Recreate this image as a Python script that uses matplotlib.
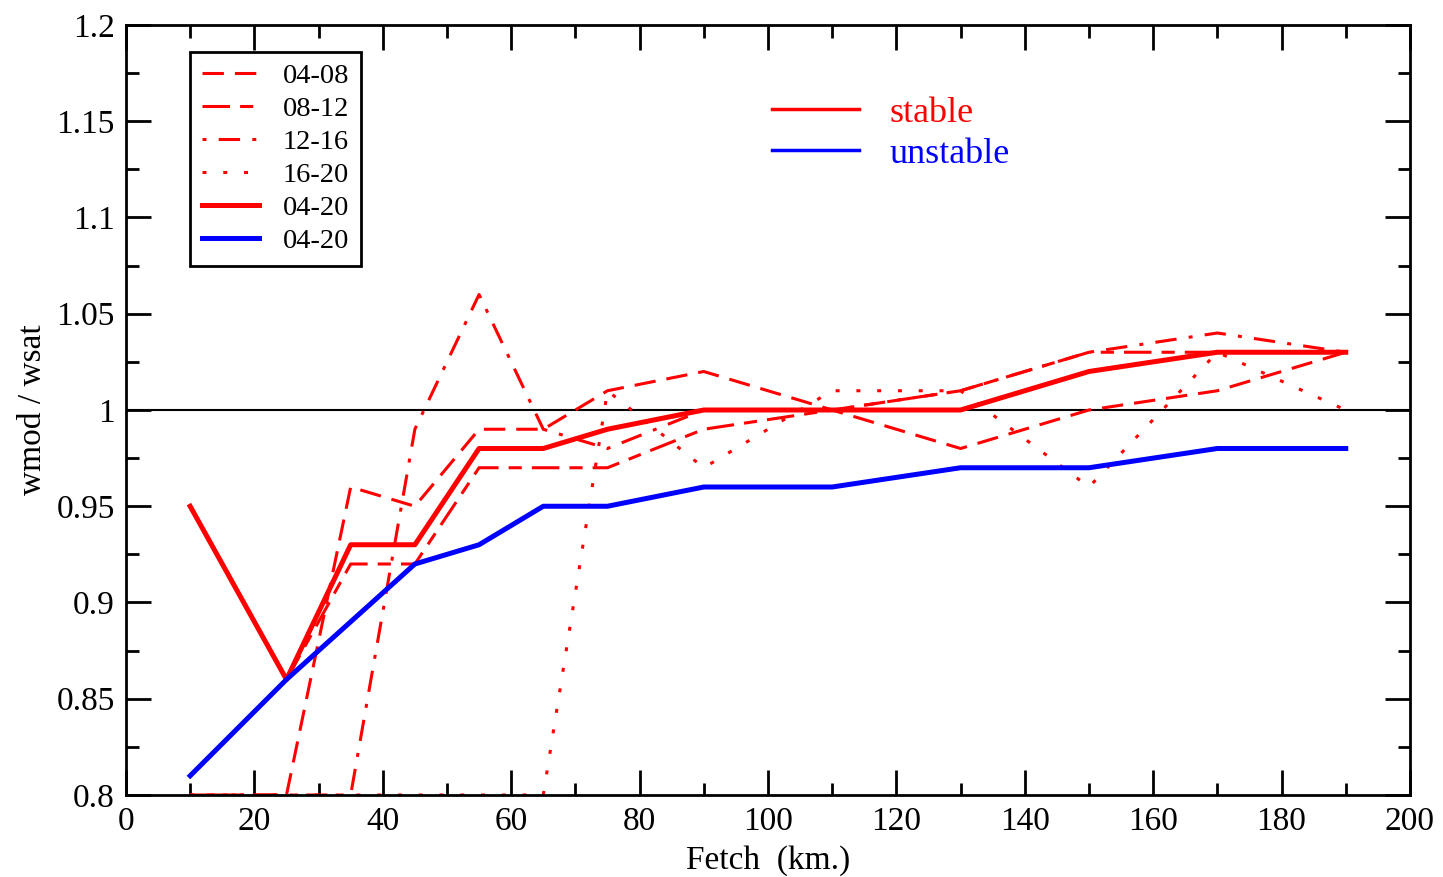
import matplotlib
matplotlib.use("Agg")
import matplotlib.pyplot as plt
from matplotlib.lines import Line2D
from matplotlib.ticker import MultipleLocator

plt.rcParams['font.family'] = ['Liberation Serif', 'DejaVu Serif']

# fetch (km) and wmod / wsat by period
fetch = [10, 25, 35, 45, 55, 65, 75, 90, 110, 130, 150, 170, 190]
r_0408 = [0.80, 0.80, 0.96, 0.95, 0.99, 0.99, 1.01, 1.02, 1.00, 0.98, 1.00, 1.01, 1.03]
fetch_0812 = [25, 35, 45, 55, 65, 75, 90, 110, 130, 150, 170, 190]
r_0812 = [0.86, 0.92, 0.92, 0.97, 0.97, 0.97, 0.99, 1.00, 1.01, 1.03, 1.03, 1.03]
r_1216 = [0.80, 0.80, 0.80, 0.99, 1.06, 0.99, 0.98, 1.00, 1.00, 1.01, 1.03, 1.04, 1.03]
r_1620 = [0.80, 0.80, 0.80, 0.80, 0.80, 0.80, 1.01, 0.97, 1.01, 1.01, 0.96, 1.03, 1.00]
stable_0420 = [0.95, 0.86, 0.93, 0.93, 0.98, 0.98, 0.99, 1.00, 1.00, 1.00, 1.02, 1.03, 1.03]
unstable_0420 = [0.81, 0.86, 0.89, 0.92, 0.93, 0.95, 0.95, 0.96, 0.96, 0.97, 0.97, 0.98, 0.98]

fig = plt.figure(figsize=(14.43, 8.77), dpi=100)
ax = fig.add_axes([0.0873, 0.0935, 0.8898, 0.878])

red = '#ff0000'
blue = '#0000ff'
thin = 2.2
thick = 3.6

l1, = ax.plot(fetch, r_0408, color=red, lw=thin, dashes=(7, 3.6), label='04-08')
l2, = ax.plot(fetch_0812, r_0812, color=red, lw=thin, dashes=(9, 3.3, 4.3, 3.3), label='08-12')
l3, = ax.plot(fetch, r_1216, color=red, lw=thin, dashes=(1.3, 4, 7, 4), label='12-16')
l4, = ax.plot(fetch, r_1620, color=red, lw=thin, dashes=(1.3, 5.5), label='16-20')
l5, = ax.plot(fetch, stable_0420, color=red, lw=thick, label='04-20')
l6, = ax.plot(fetch, unstable_0420, color=blue, lw=thick, label='04-20')

ax.axhline(1.0, color='black', lw=1.5, zorder=1)

ax.set_xlim(0, 200)
ax.set_ylim(0.8, 1.2)
ax.xaxis.set_major_locator(MultipleLocator(20))
ax.xaxis.set_minor_locator(MultipleLocator(10))
ax.yaxis.set_major_locator(MultipleLocator(0.05))
ax.yaxis.set_minor_locator(MultipleLocator(0.025))
ax.yaxis.set_major_formatter(plt.FuncFormatter(lambda v, p: ('%.2f' % v).rstrip('0').rstrip('.')))
ax.tick_params(which='both', direction='in', top=True, right=True, width=2, labelsize=24)
ax.tick_params(which='major', length=18, pad=8)
ax.tick_params(which='minor', length=9)
for s in ax.spines.values():
    s.set_linewidth(2)

ax.set_xlabel('Fetch  (km.)', fontsize=24, labelpad=6)
ax.set_ylabel('wmod / wsat', fontsize=24, labelpad=6)

leg1 = ax.legend(handles=[l1, l2, l3, l4, l5, l6], loc='upper left',
                 bbox_to_anchor=(0.039, 0.984), fontsize=20.5, handlelength=2.0,
                 labelspacing=0.25, handletextpad=0.85, borderpad=0.4,
                 fancybox=False, edgecolor='black', framealpha=1)
leg1.get_frame().set_linewidth(2)
ax.add_artist(leg1)

h_st = Line2D([], [], color=red, lw=2.5)
h_un = Line2D([], [], color=blue, lw=2.5)
leg2 = ax.legend(handles=[h_st, h_un], labels=['stable', 'unstable'], loc='upper left',
                 bbox_to_anchor=(0.478, 0.949), fontsize=26, handlelength=2.4,
                 labelspacing=0.2, handletextpad=0.85, frameon=False,
                 labelcolor=[red, blue])

fig.savefig('out.png', dpi=100)
